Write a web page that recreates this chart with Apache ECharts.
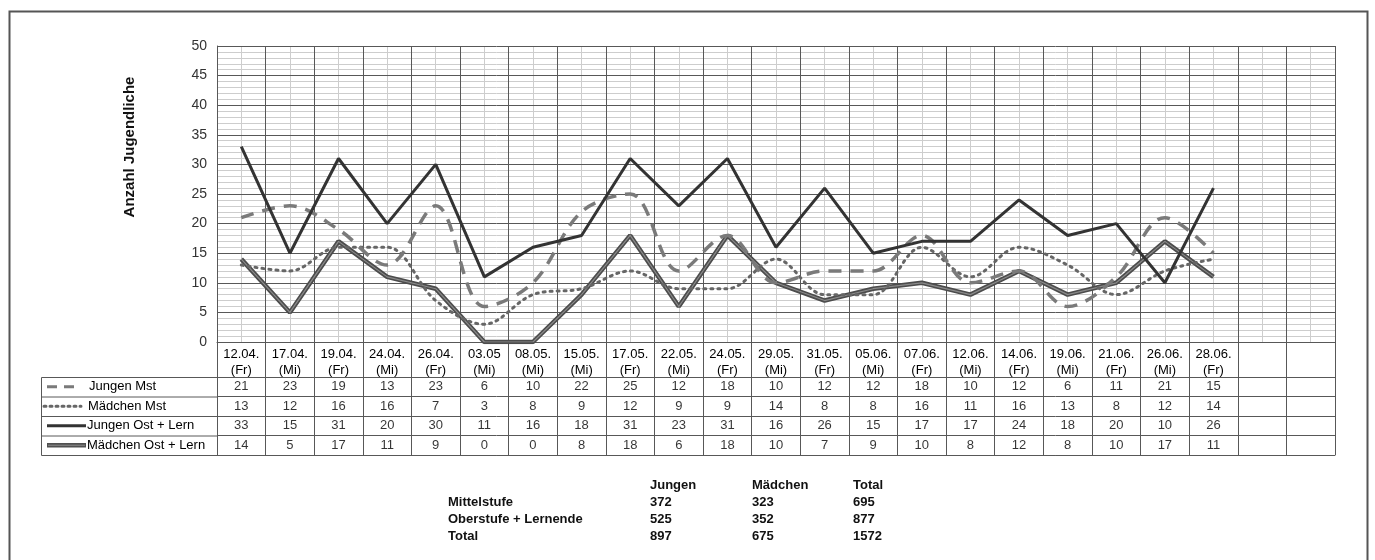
<!DOCTYPE html>
<html>
<head>
<meta charset="utf-8">
<script src="https://cdn.jsdelivr.net/npm/echarts/dist/echarts.min.js"></script>
<style>
html,body{margin:0;padding:0;background:#fff;}
#chart{width:1375px;height:560px;}
</style>
</head>
<body>
<div id="chart"></div>
<script>
// ---- data ----
var dates = ['12.04.','17.04.','19.04.','24.04.','26.04.','03.05','08.05.','15.05.','17.05.','22.05.','24.05.','29.05.','31.05.','05.06.','07.06.','12.06.','14.06.','19.06.','21.06.','26.06.','28.06.'];
var days  = ['(Fr)','(Mi)','(Fr)','(Mi)','(Fr)','(Mi)','(Mi)','(Mi)','(Fr)','(Mi)','(Fr)','(Mi)','(Fr)','(Mi)','(Fr)','(Mi)','(Fr)','(Mi)','(Fr)','(Mi)','(Fr)'];
var emptyColumns = 2;
var seriesNames = ['Jungen Mst','Mädchen Mst','Jungen Ost + Lern','Mädchen Ost + Lern'];
var jungenMst   = [21,23,19,13,23,6,10,22,25,12,18,10,12,12,18,10,12,6,11,21,15];
var maedchenMst = [13,12,16,16,7,3,8,9,12,9,9,14,8,8,16,11,16,13,8,12,14];
var jungenOst   = [33,15,31,20,30,11,16,18,31,23,31,16,26,15,17,17,24,18,20,10,26];
var maedchenOst = [14,5,17,11,9,0,0,8,18,6,18,10,7,9,10,8,12,8,10,17,11];
var yTicks = [0,50,5];
var axisTitle = 'Anzahl Jugendliche';
var summaryCols = ['Jungen','Mädchen','Total'];
var summaryRows = ['Mittelstufe','Oberstufe + Lernende','Total'];
var summaryJungen = [372,525,897];
var summaryMaedchen = [323,352,675];
var summaryTotal = [695,877,1572];

// ---- build ----
var FONT = 'Liberation Sans, Arial, Helvetica, sans-serif';
var categories = dates.map(function(d,i){return d+'\n'+days[i];});
for (var e=0;e<emptyColumns;e++) categories.push('');
var nCat = categories.length;
var rows = [jungenMst, maedchenMst, jungenOst, maedchenOst];
var cellData = [];
rows.forEach(function(arr,r){ arr.forEach(function(v,i){ cellData.push([i, r, v]); }); });

var GL = 217, GR = 40;
var major = '#585858', minor = '#cdcdcd';

var graphics = [];
// outer frame
graphics.push({type:'rect', shape:{x:9.5,y:11.5,width:1358,height:620}, style:{fill:'none',stroke:'#555',lineWidth:2}, silent:true});
// y axis title
graphics.push({type:'text', x:130, y:147, rotation:Math.PI/2, style:{text:axisTitle, font:'bold 15px '+FONT, fill:'#111', textAlign:'center', textVerticalAlign:'middle'}});
// legend column
var legTop = 377, rowH = 19.5, legLeft = 41;
graphics.push({type:'rect', shape:{x:legLeft+0.5,y:legTop+0.5,width:GL-legLeft,height:rowH*4}, style:{fill:'none',stroke:major,lineWidth:1}});
for (var r=1;r<4;r++){
  graphics.push({type:'line', shape:{x1:legLeft,y1:legTop+rowH*r+0.5,x2:GL,y2:legTop+rowH*r+0.5}, style:{stroke:major,lineWidth:1}});
}
var samples = [
  {x1:47,x2:80,stroke:'#7a7a7a',w:3,dash:[10,7],tx:89},
  {x1:44,x2:81,stroke:'#666',w:3,dash:[2,4],tx:88,cap:'round'},
  {x1:47,x2:86,stroke:'#333',w:3,dash:null,tx:87},
  {x1:47,x2:86,stroke:'#505050',w:4.5,dash:null,tx:87,inner:'#8a8a8a'}
];
samples.forEach(function(s,i){
  var cy = legTop + rowH*i + rowH/2;
  graphics.push({type:'line', shape:{x1:s.x1,y1:cy,x2:s.x2,y2:cy}, style:{stroke:s.stroke,lineWidth:s.w,lineDash:s.dash,lineCap:s.cap||'butt'}});
  if (s.inner) graphics.push({type:'line', shape:{x1:s.x1+1,y1:cy,x2:s.x2-1,y2:cy}, style:{stroke:s.inner,lineWidth:1.2}});
  graphics.push({type:'text', x:s.tx, y:cy, style:{text:seriesNames[i], font:'13px '+FONT, fill:'#000', textVerticalAlign:'middle'}});
});
// summary table
var colX = [650,752,853], rowX = 448, headY = 485, sumRowY = [502,519,536];
summaryCols.forEach(function(c,i){
  graphics.push({type:'text', x:colX[i], y:headY, style:{text:c, font:'bold 13px '+FONT, fill:'#111', textVerticalAlign:'middle'}});
});
var sumVals = [summaryJungen, summaryMaedchen, summaryTotal];
summaryRows.forEach(function(rw,j){
  graphics.push({type:'text', x:rowX, y:sumRowY[j], style:{text:rw, font:'bold 13px '+FONT, fill:'#111', textVerticalAlign:'middle'}});
  sumVals.forEach(function(arr,i){
    graphics.push({type:'text', x:colX[i], y:sumRowY[j], style:{text:String(arr[j]), font:'bold 13px '+FONT, fill:'#111', textVerticalAlign:'middle'}});
  });
});

var option = {
  backgroundColor:'#fff',
  animation:false,
  textStyle:{fontFamily:FONT},
  grid:[
    {left:GL, right:GR, top:46, height:296},
    {left:GL, right:GR, top:342, height:35},
    {left:GL, right:GR, top:377, height:78}
  ],
  xAxis:[
    {type:'category', gridIndex:0, data:categories, boundaryGap:true, z:3,
     axisLine:{show:true, lineStyle:{color:major,width:1}}, axisTick:{show:false},
     axisLabel:{show:true, interval:0, margin:4, color:'#000', fontSize:13, lineHeight:16, fontFamily:FONT},
     splitLine:{show:true, interval:0, lineStyle:{color:major,width:1}}},
    {type:'value', gridIndex:0, min:0, max:nCat*2, interval:1, position:'top', z:1,
     axisLine:{show:false}, axisTick:{show:false}, axisLabel:{show:false},
     splitLine:{show:true, lineStyle:{color:minor,width:1}}},
    {type:'category', gridIndex:1, data:categories, boundaryGap:true,
     axisLine:{show:true, lineStyle:{color:major}}, axisTick:{show:false}, axisLabel:{show:false},
     splitLine:{show:true, interval:0, lineStyle:{color:major,width:1}}},
    {type:'category', gridIndex:2, data:categories, boundaryGap:true,
     axisLine:{show:true, lineStyle:{color:major}}, axisTick:{show:false}, axisLabel:{show:false},
     splitLine:{show:true, interval:0, lineStyle:{color:major,width:1}}}
  ],
  yAxis:[
    {type:'value', gridIndex:0, min:yTicks[0], max:yTicks[1], interval:yTicks[2], z:2,
     axisLine:{show:true, lineStyle:{color:major}}, axisTick:{show:false},
     axisLabel:{color:'#333', fontSize:14, margin:10, fontFamily:FONT},
     splitLine:{show:true, lineStyle:{color:major,width:1}},
     minorTick:{show:false, splitNumber:5},
     minorSplitLine:{show:true, lineStyle:{color:minor,width:1}}},
    {type:'value', gridIndex:1, min:0, max:1, show:true,
     axisLine:{show:true, lineStyle:{color:major}}, axisTick:{show:false}, axisLabel:{show:false}, splitLine:{show:false}},
    {type:'category', gridIndex:2, data:seriesNames, inverse:true, boundaryGap:true,
     axisLine:{show:true, lineStyle:{color:major}}, axisTick:{show:false}, axisLabel:{show:false},
     splitLine:{show:true, interval:0, lineStyle:{color:major,width:1}}}
  ],
  series:[
    {name:seriesNames[3], type:'line', xAxisIndex:0, yAxisIndex:0, data:maedchenOst, symbol:'none', z:5,
     lineStyle:{color:'#4c4c4c', width:4.5}},
    {name:seriesNames[3]+' inner', type:'line', xAxisIndex:0, yAxisIndex:0, data:maedchenOst, symbol:'none', z:6, silent:true,
     lineStyle:{color:'#8a8a8a', width:1.2}},
    {name:seriesNames[1], type:'line', xAxisIndex:0, yAxisIndex:0, data:maedchenMst, symbol:'none', smooth:0.35, z:7,
     lineStyle:{color:'#666', width:3, type:[2,5], cap:'round'}},
    {name:seriesNames[0], type:'line', xAxisIndex:0, yAxisIndex:0, data:jungenMst, symbol:'none', smooth:0.35, z:8,
     lineStyle:{color:'#7a7a7a', width:3.5, type:[13,9]}},
    {name:seriesNames[2], type:'line', xAxisIndex:0, yAxisIndex:0, data:jungenOst, symbol:'none', z:9,
     lineStyle:{color:'#333', width:3}},
    {name:'table', type:'scatter', xAxisIndex:3, yAxisIndex:2, data:cellData, symbolSize:1,
     itemStyle:{color:'rgba(0,0,0,0)'}, silent:true,
     label:{show:true, position:'inside', formatter:function(p){return String(p.value[2]);}, color:'#000', fontSize:13, fontFamily:FONT}}
  ],
  graphic:graphics
};
var chart = echarts.init(document.getElementById('chart'), null, {renderer:'canvas'});
chart.setOption(option);
</script>
</body>
</html>
